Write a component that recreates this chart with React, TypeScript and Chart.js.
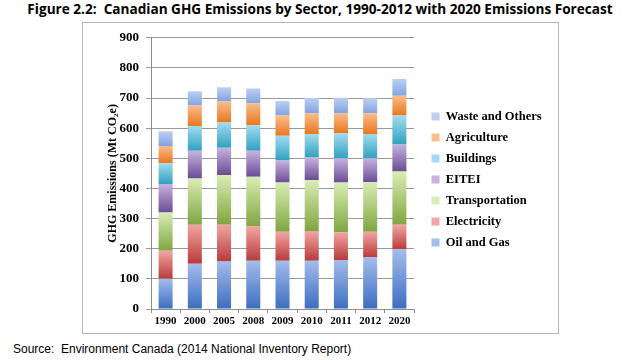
import React, { useEffect, useRef } from "react";
import { Chart, registerables } from "chart.js";
Chart.register(...registerables);

const years = ["1990", "2000", "2005", "2008", "2009", "2010", "2011", "2012", "2020"];
const oilGas = [100, 150, 158, 160, 160, 160, 163, 172, 198];
const electricity = [93, 130, 122, 114, 96, 99, 91, 84, 82];
const transportation = [127, 153, 165, 165, 164, 169, 166, 165, 176];
const eitei = [95, 92, 90, 86, 73, 75, 80, 79, 90];
const buildings = [69, 82, 84, 85, 82, 78, 83, 81, 96];
const agriculture = [57, 68, 70, 73, 67, 69, 67, 69, 66];
const waste = [49, 48, 47, 49, 48, 50, 51, 49, 55];
const yMin = 0;
const yMax = 900;
const yStep = 100;

const seriesNames = ["Oil and Gas", "Electricity", "Transportation", "EITEI", "Buildings", "Agriculture", "Waste and Others"];
const seriesData = [oilGas, electricity, transportation, eitei, buildings, agriculture, waste];
const topColors = ["#a3bdec", "#f2a5a3", "#d9edb4", "#c6b3de", "#a3dcee", "#fbbd8c", "#bccff2"];
const bottomColors = ["#3c6cc0", "#b73b39", "#7fa540", "#6a4b97", "#30a0c0", "#e8771e", "#82a3e0"];
const midColors = ["#6f93d8", "#d9706d", "#a9cc72", "#9478bc", "#5fc0dc", "#f59a52", "#9fb8ea"];

function makeBg(di: number) {
  return (ctx: any) => {
    if (ctx.type !== "data") return midColors[di];
    const chart = ctx.chart;
    const y = chart.scales && chart.scales.y;
    if (!y) return midColors[di];
    const i = ctx.dataIndex;
    let start = 0;
    for (let k = 0; k < di; k++) start += seriesData[k][i];
    const end = start + seriesData[di][i];
    const y0 = y.getPixelForValue(start);
    const y1 = y.getPixelForValue(end);
    if (!isFinite(y0) || !isFinite(y1) || y0 === y1) return midColors[di];
    const g = chart.ctx.createLinearGradient(0, y1, 0, y0);
    g.addColorStop(0, topColors[di]);
    g.addColorStop(1, bottomColors[di]);
    return g;
  };
}

const legendLayoutPlugin = {
  id: "legendLayout",
  beforeLayout(chart: any) {
    const lg = chart.legend;
    if (lg && !lg._patchedFit) {
      const orig = lg.fit.bind(lg);
      lg.fit = function () {
        orig();
        this.width = 144;
      };
      lg._patchedFit = true;
    }
  },
  afterLayout(chart: any) {
    const lg = chart.legend;
    if (lg) {
      lg.left += 9;
      lg.right += 9;
      lg.top -= 5;
      lg.bottom -= 5;
    }
  },
};

const serif = "'Liberation Serif', 'DejaVu Serif', serif";

export default function App() {
  const ref = useRef<HTMLCanvasElement>(null);
  useEffect(() => {
    if (!ref.current) return;
    const chart = new Chart(ref.current, {
      type: "bar",
      data: {
        labels: years,
        datasets: seriesNames.map((name, di) => ({
          label: name,
          data: seriesData[di],
          backgroundColor: makeBg(di),
          borderWidth: 0,
          barPercentage: 0.48,
          categoryPercentage: 1,
        })),
      },
      plugins: [legendLayoutPlugin],
      options: {
        responsive: false,
        animation: false,
        layout: { padding: { top: 13, left: 0, right: 0, bottom: 0 } },
        plugins: {
          tooltip: { enabled: false },
          legend: {
            position: "right",
            reverse: true,
            labels: {
              boxWidth: 8,
              boxHeight: 8,
              padding: 8.5,
              color: "#000",
              font: { family: serif, size: 12.5, weight: "bold" },
            },
          },
        },
        scales: {
          x: {
            stacked: true,
            grid: {
              display: true,
              drawOnChartArea: false,
              drawTicks: true,
              tickLength: 4,
              color: "#8c8c8c",
              offset: true,
            },
            border: { color: "#8c8c8c" },
            ticks: {
              color: "#000",
              padding: 2,
              font: { family: serif, size: 11, weight: "bold" },
            },
            afterFit: (s: any) => {
              s.height = 24;
            },
          },
          y: {
            stacked: true,
            min: yMin,
            max: yMax,
            grid: { color: "#9a9a9a", tickLength: 5 },
            border: { color: "#8c8c8c" },
            ticks: {
              stepSize: yStep,
              color: "#000",
              padding: 7,
              font: { family: serif, size: 13, weight: "bold" },
            },
            title: {
              display: true,
              text: "GHG Emissions (Mt CO₂e)",
              color: "#000",
              padding: { top: 23, bottom: 0 },
              font: { family: serif, size: 12, weight: "bold" },
            },
            afterFit: (s: any) => {
              s.width = 68;
            },
          },
        },
      },
    });
    return () => chart.destroy();
  }, []);

  return (
    <div style={{ position: "fixed", left: 0, top: 0, width: 640, height: 360, background: "#fff", overflow: "hidden" }}>
      <div
        style={{
          position: "absolute",
          left: 0,
          top: 0,
          width: 640,
          textAlign: "center",
          fontFamily: "'Open Sans', 'Liberation Sans', sans-serif",
          fontWeight: "bold",
          fontSize: 13.6,
          lineHeight: "17px",
          color: "#000",
          whiteSpace: "pre",
        }}
      >
        {"Figure 2.2:  Canadian GHG Emissions by Sector, 1990-2012 with 2020 Emissions Forecast"}
      </div>
      <div
        style={{
          position: "absolute",
          left: 82,
          top: 22,
          width: 475,
          height: 310,
          border: "1px solid #b5b5b5",
        }}
      >
        <canvas ref={ref} width={475} height={310} style={{ display: "block" }} />
      </div>
      <div
        style={{
          position: "absolute",
          left: 13,
          top: 342,
          fontFamily: "'Liberation Sans', Arial, sans-serif",
          fontSize: 12,
          color: "#000",
          whiteSpace: "pre",
        }}
      >
        {"Source:  Environment Canada (2014 National Inventory Report)"}
      </div>
    </div>
  );
}
